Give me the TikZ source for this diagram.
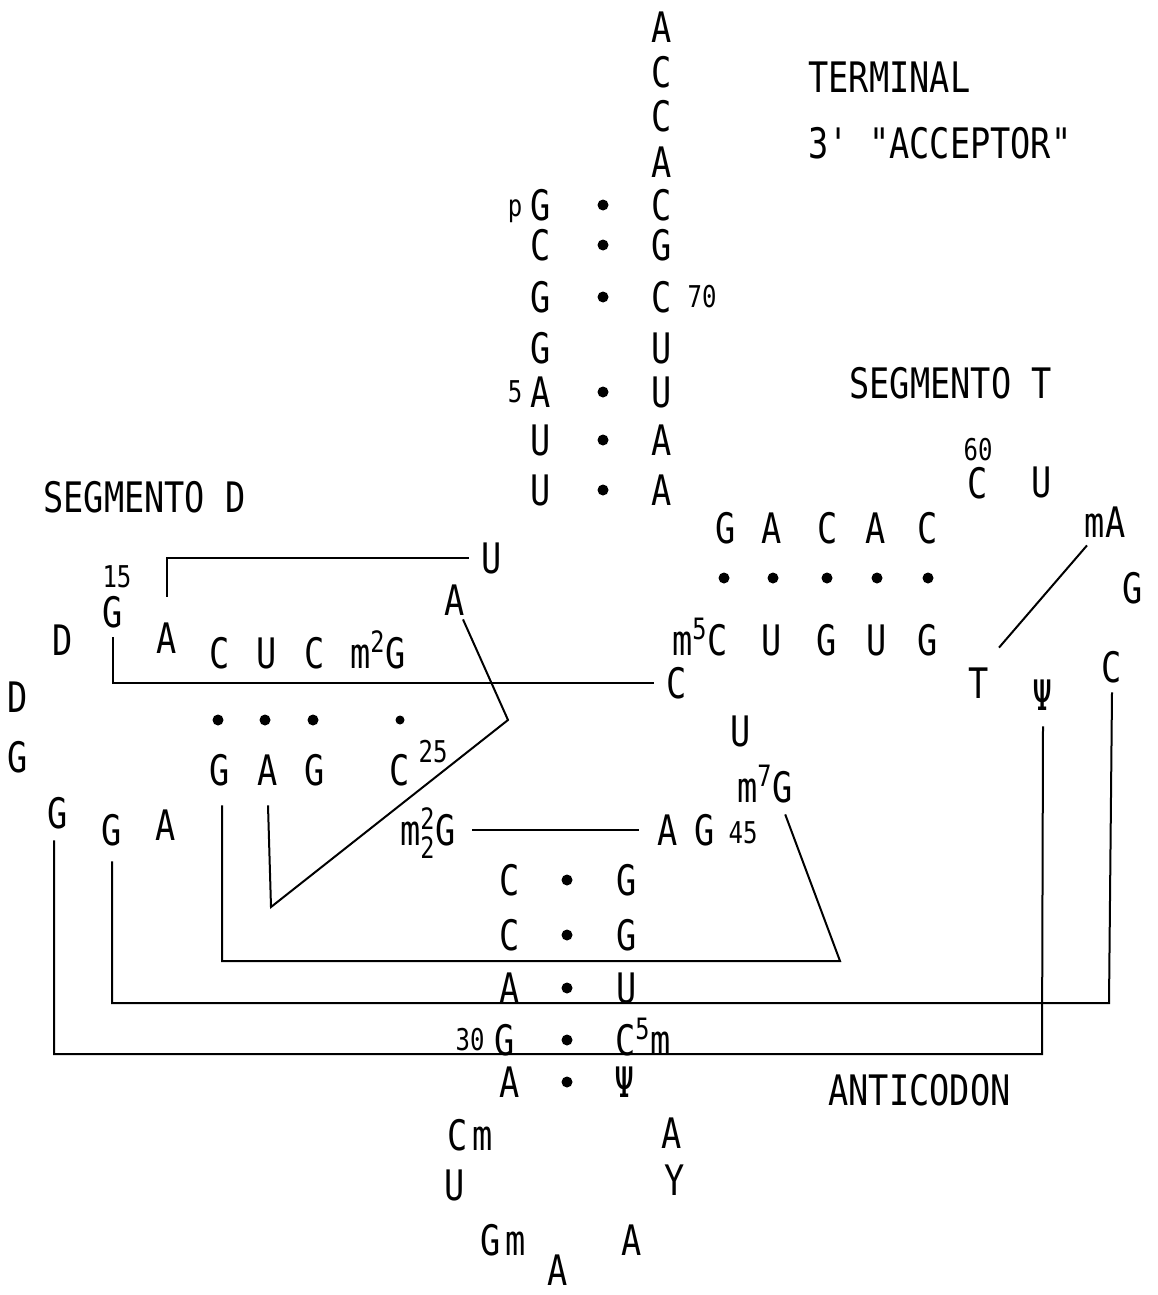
\documentclass[tikz,border=0pt]{standalone}
\usepackage{amsmath}
\usepackage{fontspec}
\usepackage{tikz}
\newfontfamily\rnafont{DejaVu Sans Mono}[FakeStretch=0.8]
\usetikzlibrary{calc}

\begin{document}
\begin{tikzpicture}[
    x=0.5pt, y=-0.5pt,
    nt/.style={inner sep=0pt, text height=15pt, text depth=0pt,
      font=\rnafont\fontsize{21}{24}\selectfont},
    num/.style={inner sep=0pt, font=\rnafont\fontsize{15}{18}\selectfont},
    caption/.style={nt, anchor=west},
    bond/.style={circle, fill, inner sep=0pt, minimum size=5.5pt},
    weak/.style={bond, minimum size=4.5pt},
    link/.style={line width=1pt},
  ]
  \useasboundingbox (0,0) rectangle (1157,1295);

  % Acceptor stem, 5' strand
  \node[nt] (n1) at (541,205) {G};
  \node[num] (p1) at (515,211) {p};
  \node[nt] (n2) at (541,245) {C};
  \node[nt] (n3) at (541,297) {G};
  \node[nt] (n4) at (541,348) {G};
  \node[nt] (n5) at (541,392) {A};
  \node[num] (l5) at (515,392) {5};
  \node[nt] (n6) at (541,440) {U};
  \node[nt] (n7) at (541,490) {U};

  % Acceptor stem, 3' strand and CCA end
  \node[nt] (n66) at (662,490) {A};
  \node[nt] (n67) at (662,440) {A};
  \node[nt] (n68) at (662,392) {U};
  \node[nt] (n69) at (662,348) {U};
  \node[nt] (n70) at (662,297) {C};
  \node[num] (l70) at (702,297) {70};
  \node[nt] (n71) at (662,245) {G};
  \node[nt] (n72) at (662,205) {C};
  \node[nt] (n73) at (662,162) {A};
  \node[nt] (n74) at (662,117) {C};
  \node[nt] (n75) at (662,73) {C};
  \node[nt] (n76) at (662,28) {A};

  % Acceptor pairs
  \node[bond] (b1) at (603,205) {};
  \node[bond] (b2) at (603,245) {};
  \node[bond] (b3) at (603,297) {};
  \node[bond] (b5) at (603,392) {};
  \node[bond] (b6) at (603,440) {};
  \node[bond] (b7) at (603,490) {};

  % Captions
  \node[caption] (term) at (808,78) {TERMINAL};
  \node[caption] (accp) at (808,143) {3' "ACCEPTOR"};
  \node[caption] (segt) at (849,383) {SEGMENTO T};
  \node[caption] (segd) at (43,497) {SEGMENTO D};
  \node[caption] (anti) at (828,1090) {ANTICODON};

  % D arm
  \node[nt] (n8) at (492,558) {U};
  \node[nt] (n9) at (455,600) {A};
  \node[nt] (n10) at (378,653) {m\textsuperscript{2}G};
  \node[nt] (n11) at (315,653) {C};
  \node[nt] (n12) at (267,653) {U};
  \node[nt] (n13) at (220,653) {C};
  \node[nt] (n14) at (167,638) {A};
  \node[nt] (n15) at (113,612) {G};
  \node[num] (l15) at (117,577) {15};
  \node[nt] (n16) at (63,640) {D};
  \node[nt] (n17) at (18,697) {D};
  \node[nt] (n18) at (18,757) {G};
  \node[nt] (n19) at (58,813) {G};
  \node[nt] (n20) at (112,830) {G};
  \node[nt] (n21) at (166,825) {A};
  \node[nt] (n22) at (220,770) {G};
  \node[nt] (n23) at (268,770) {A};
  \node[nt] (n24) at (315,770) {G};
  \node[nt] (n25) at (400,770) {C};
  \node[num] (l25) at (433,752) {25};
  \node[bond] (b13) at (218,720) {};
  \node[bond] (b12) at (265,720) {};
  \node[bond] (b11) at (313,720) {};
  \node[weak] (b10) at (400,720) {};

  % Anticodon stem
  \node[nt] (n26) at (428,830) {m$^{\text{2}}_{\text{2}}$G};
  \node[nt] (n27) at (510,880) {C};
  \node[nt] (n28) at (510,935) {C};
  \node[nt] (n29) at (510,988) {A};
  \node[nt] (n30) at (505,1040) {G};
  \node[num] (l30) at (470,1040) {30};
  \node[nt] (n31) at (510,1082) {A};
  \node[nt] (n43) at (627,880) {G};
  \node[nt] (n42) at (627,935) {G};
  \node[nt] (n41) at (627,988) {U};
  \node[nt] (n40) at (643,1040) {C\textsuperscript{5}m};
  \node[nt] (n39) at (625,1082) {Ψ};
  \node[bond] (b27) at (567,880) {};
  \node[bond] (b28) at (567,935) {};
  \node[bond] (b29) at (567,988) {};
  \node[bond] (b30) at (567,1040) {};
  \node[bond] (b31) at (567,1082) {};

  % Anticodon loop
  \node[nt] (n32) at (470,1135) {C\hspace{2pt}m};
  \node[nt] (n33) at (455,1185) {U};
  \node[nt] (n34) at (503,1240) {G\hspace{2pt}m};
  \node[nt] (n35) at (558,1270) {A};
  \node[nt] (n36) at (632,1240) {A};
  \node[nt] (n37) at (675,1180) {Y};
  \node[nt] (n38) at (672,1133) {A};

  % Variable loop
  \node[nt] (n44) at (668,830) {A};
  \node[nt] (n45) at (705,830) {G};
  \node[num] (l45) at (743,833) {45};
  \node[nt] (n46) at (765,787) {m\textsuperscript{7}G};
  \node[nt] (n47) at (741,731) {U};
  \node[nt] (n48) at (677,683) {C};

  % T arm
  \node[nt] (n49) at (700,640) {m\textsuperscript{5}C};
  \node[nt] (n50) at (772,640) {U};
  \node[nt] (n51) at (827,640) {G};
  \node[nt] (n52) at (877,640) {U};
  \node[nt] (n53) at (928,640) {G};
  \node[nt] (n54) at (979,683) {T};
  \node[nt] (n55) at (1043,695) {Ψ};
  \node[nt] (n56) at (1112,667) {C};
  \node[nt] (n57) at (1133,588) {G};
  \node[nt] (n58) at (1105,522) {mA};
  \node[nt] (n59) at (1042,482) {U};
  \node[nt] (n60) at (978,483) {C};
  \node[num] (l60) at (978,450) {60};
  \node[nt] (n61) at (928,528) {C};
  \node[nt] (n62) at (876,528) {A};
  \node[nt] (n63) at (828,528) {C};
  \node[nt] (n64) at (772,528) {A};
  \node[nt] (n65) at (726,528) {G};
  \node[bond] (b49) at (724,578) {};
  \node[bond] (b50) at (773,578) {};
  \node[bond] (b51) at (827,578) {};
  \node[bond] (b52) at (877,578) {};
  \node[bond] (b53) at (928,578) {};

  % Corners of the tertiary links
  \coordinate (k9) at (508,720);
  \coordinate (k23) at (271,907);
  \coordinate (k46) at (840,961);
  \coordinate (k56) at (1109,1003);
  \coordinate (k55) at (1042,1054);

  % Tertiary links
  \draw[link] ([yshift=13pt]n14.north) |- ([xshift=-6pt]n8.west);
  \draw[link] ([yshift=-5pt]n15.south) |- ([xshift=-6pt]n48.west);
  \draw[link] ([xshift=4pt,yshift=-2pt]n9.south) -- (k9) -- (k23)
    -- ([yshift=-10pt]n23.south);
  \draw[link] ([xshift=1pt,yshift=-10pt]n22.south) |- (k46)
    -- ([xshift=-4pt,yshift=-6pt]n46.south east);
  \draw[link] ([yshift=-8pt]n20.south) |- (k56) -- ([yshift=-5pt]n56.south);
  \draw[link] ([xshift=-2pt,yshift=-6pt]n19.south) |- (k55)
    -- ([yshift=-8pt]n55.south);
  \draw[link] ([xshift=8pt]n26.east) -- ([xshift=-9pt]n44.west);
  \draw[link] ([xshift=10pt,yshift=10pt]n54.north)
    -- ([xshift=-9pt,yshift=-4pt]n58.south);
\end{tikzpicture}
\end{document}
